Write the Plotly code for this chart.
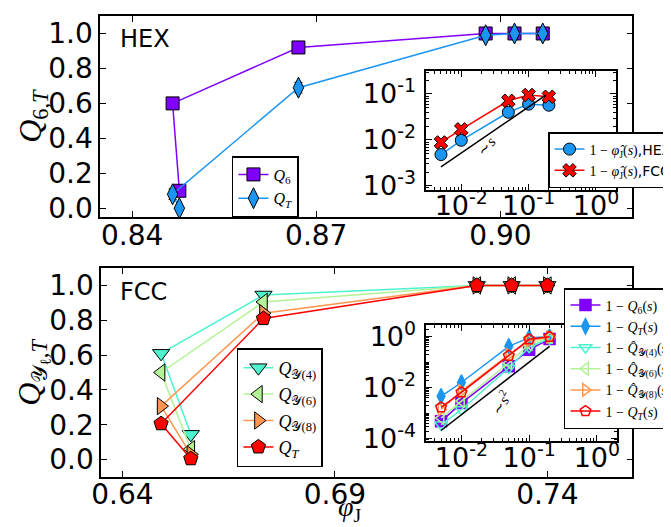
import plotly.graph_objects as go

# ---------------- data ----------------
# HEX main panel (ordered by decreasing compression rate s)
hex_phi = [0.8477, 0.8466, 0.8671, 0.8976, 0.9023, 0.9069]
hex_Q6 = [0.10, 0.60, 0.92, 1.00, 1.00, 1.00]
hex_Q6_err = [0.01, 0.01, 0.01, 0.005, 0.005, 0.005]
hex_QT = [0.00, 0.08, 0.69, 0.99, 1.00, 1.00]
hex_QT_err = [0.005, 0.03, 0.03, 0.01, 0.005, 0.005]

# HEX inset
s_vals = [0.005, 0.01, 0.05, 0.1, 0.2]
hex_1m_phi = [0.0048, 0.0098, 0.040, 0.060, 0.057]
fcc_1m_phi = [0.0088, 0.017, 0.071, 0.095, 0.087]
guide1_s = [0.005, 0.18]
guide1_y = [0.0026, 0.094]

# FCC main panel
fcc_phi = [0.6561, 0.6491, 0.6732, 0.7234, 0.7316, 0.7400]
fcc_Qy4 = [0.145, 0.61, 0.945, 1.0, 1.0, 1.0]
fcc_Qy6 = [0.06, 0.50, 0.905, 1.0, 1.0, 1.0]
fcc_Qy8 = [0.03, 0.307, 0.84, 1.0, 1.0, 1.0]
fcc_QT = [0.005, 0.206, 0.81, 1.0, 1.0, 1.0]
fcc_err = [0.01, 0.01, 0.01, 0.005, 0.005, 0.005]

# FCC inset
in_1mQ6 = [0.00048, 0.0025, 0.069, 0.31, 0.81]
in_1mQT_hex = [0.0046, 0.016, 0.42, 0.92, 1.0]
in_1mQy4 = [0.00035, 0.0014, 0.059, 0.39, 0.855]
in_1mQy6 = [0.00065, 0.003, 0.093, 0.50, 0.94]
in_1mQy8 = [0.0014, 0.0074, 0.20, 0.69, 0.97]
in_1mQT_fcc = [0.0017, 0.0066, 0.18, 0.79, 0.995]
guide2_s = [0.005, 0.2]
guide2_y = [0.00021, 0.42]

# tick labels
main_yticks = [0, 0.2, 0.4, 0.6, 0.8, 1.0]
main_yticktext = ["0.0", "0.2", "0.4", "0.6", "0.8", "1.0"]
hex_xticks = [0.84, 0.87, 0.90]
hex_xticktext = ["0.84", "0.87", "0.90"]
fcc_xticks = [0.64, 0.69, 0.74]
fcc_xticktext = ["0.64", "0.69", "0.74"]
inset_xticks = [0.01, 0.1, 1.0]
inset_xticktext = ["10<sup>-2</sup>", "10<sup>-1</sup>", "10<sup>0</sup>"]
hex_inset_yticks = [0.001, 0.01, 0.1]
hex_inset_yticktext = ["10<sup>-3</sup>", "10<sup>-2</sup>", "10<sup>-1</sup>"]
fcc_inset_yticks = [0.0001, 0.01, 1.0]
fcc_inset_yticktext = ["10<sup>-4</sup>", "10<sup>-2</sup>", "10<sup>0</sup>"]

C = ["#7f00ff", "#1a96f2", "#4df3ce", "#b3f396", "#ff964f", "#ff0000"]

W, H = 671, 527
def px(x): return x / W
def py(y): return 1 - y / H

TICKF = dict(family="DejaVu Sans", size=28, color="black")
INSF = dict(family="DejaVu Sans", size=27, color="black")
MATHF = "Liberation Serif"

fig = go.Figure()

def err(a):
    return dict(type="data", array=a, color="black", thickness=1, width=4)

# ---- top main ----
fig.add_trace(go.Scatter(x=hex_phi, y=hex_Q6, mode="lines+markers", name="<i>Q</i><sub>6</sub>",
                         line=dict(color=C[0], width=1.5), error_y=err(hex_Q6_err),
                         marker=dict(symbol="square", size=13, color=C[0], line=dict(color="black", width=1)),
                         xaxis="x", yaxis="y", legend="legend"))
fig.add_trace(go.Scatter(x=hex_phi, y=hex_QT, mode="lines+markers", name="<i>Q</i><sub><i>T</i></sub>",
                         line=dict(color=C[1], width=1.5), error_y=err(hex_QT_err),
                         marker=dict(symbol="diamond-tall", size=15, color=C[1], line=dict(color="black", width=1)),
                         xaxis="x", yaxis="y", legend="legend"))

# ---- top inset ----
fig.add_trace(go.Scatter(x=s_vals, y=hex_1m_phi, mode="lines+markers",
                         name="1 − <i>φ̂</i><sub>J</sub>(<i>s</i>)<span style='font-family:DejaVu Sans'>,HEX</span>",
                         line=dict(color=C[1], width=1.5),
                         marker=dict(symbol="circle", size=12, color=C[1], line=dict(color="black", width=1)),
                         xaxis="x3", yaxis="y3", legend="legend2"))
fig.add_trace(go.Scatter(x=s_vals, y=fcc_1m_phi, mode="lines+markers",
                         name="1 − <i>φ̂</i><sub>J</sub>(<i>s</i>)<span style='font-family:DejaVu Sans'>,FCC</span>",
                         line=dict(color=C[5], width=1.5),
                         marker=dict(symbol="x", size=12, color=C[5], line=dict(color="black", width=1)),
                         xaxis="x3", yaxis="y3", legend="legend2"))
fig.add_trace(go.Scatter(x=guide1_s, y=guide1_y, mode="lines", showlegend=False,
                         line=dict(color="black", width=1.5), xaxis="x3", yaxis="y3"))

# ---- bottom main ----
bot = [(fcc_Qy4, C[2], "triangle-down", "<i>Q</i><sub>𝒴(4)</sub>"),
       (fcc_Qy6, C[3], "triangle-left", "<i>Q</i><sub>𝒴(6)</sub>"),
       (fcc_Qy8, C[4], "triangle-right", "<i>Q</i><sub>𝒴(8)</sub>"),
       (fcc_QT, C[5], "pentagon", "<i>Q</i><sub><i>T</i></sub>")]
for yv, col, sym, nm in bot:
    fig.add_trace(go.Scatter(x=fcc_phi, y=yv, mode="lines+markers", name=nm,
                             line=dict(color=col, width=1.5), error_y=err(fcc_err),
                             marker=dict(symbol=sym, size=15, color=col, line=dict(color="black", width=1)),
                             xaxis="x2", yaxis="y2", legend="legend3"))

# ---- bottom inset ----
ins = [(in_1mQ6, C[0], "square", "1 − <i>Q</i><sub>6</sub>(<i>s</i>)"),
       (in_1mQT_hex, C[1], "diamond-tall", "1 − <i>Q</i><sub><i>T</i></sub>(<i>s</i>)"),
       (in_1mQy4, C[2], "triangle-down-open", "1 − <i>Q̂</i><sub>𝒴(4)</sub>(<i>s</i>)"),
       (in_1mQy6, C[3], "triangle-left-open", "1 − <i>Q̂</i><sub>𝒴(6)</sub>(<i>s</i>)"),
       (in_1mQy8, C[4], "triangle-right-open", "1 − <i>Q̂</i><sub>𝒴(8)</sub>(<i>s</i>)"),
       (in_1mQT_fcc, C[5], "pentagon-open", "1 − <i>Q</i><sub><i>T</i></sub>(<i>s</i>)")]
for yv, col, sym, nm in ins:
    fig.add_trace(go.Scatter(x=s_vals, y=yv, mode="lines+markers", name=nm,
                             line=dict(color=col, width=1.5),
                             marker=dict(symbol=sym, size=11, color=col,
                                         line=dict(color=col, width=1.5)),
                             xaxis="x4", yaxis="y4", legend="legend4"))
fig.add_trace(go.Scatter(x=guide2_s, y=guide2_y, mode="lines", showlegend=False,
                         line=dict(color="black", width=1.5), xaxis="x4", yaxis="y4"))

frame = dict(showline=True, linecolor="black", linewidth=1.5, mirror="allticks",
             ticks="inside", ticklen=6, tickwidth=1, tickcolor="black",
             showgrid=False, zeroline=False, tickfont=TICKF, automargin=False, tickangle=0)

logminor = dict(ticks="inside", ticklen=3, tickcolor="black", dtick="D1", showgrid=False)
logax = dict(frame, type="log", tickfont=INSF, minor=logminor, tickmode="array")

fig.update_layout(
    width=W, height=H, margin=dict(l=0, r=0, t=0, b=0),
    paper_bgcolor="white", plot_bgcolor="white", showlegend=True,
    xaxis=dict(frame, domain=[px(93), px(630)], range=[0.8348, 0.9215], anchor="y",
               tickvals=hex_xticks, ticktext=hex_xticktext, ticklabelstandoff=-7),
    yaxis=dict(frame, domain=[py(209), py(8)], range=[-0.05, 1.1], anchor="x",
               tickvals=main_yticks, ticktext=main_yticktext),
    xaxis2=dict(frame, domain=[px(94), px(630)], range=[0.635, 0.760], anchor="y2",
                tickvals=fcc_xticks, ticktext=fcc_xticktext, ticklabelstandoff=-8),
    yaxis2=dict(frame, domain=[py(469), py(260)], range=[-0.1, 1.1], anchor="x2",
                tickvals=main_yticks, ticktext=main_yticktext),
    xaxis3=dict(logax, domain=[px(422), px(613)], range=[-2.52, 0.29], anchor="y3",
                tickvals=inset_xticks, ticktext=inset_xticktext, ticklabelstandoff=-9),
    yaxis3=dict(logax, domain=[py(182), py(63)], range=[-3.09, -0.5], anchor="x3",
                tickvals=hex_inset_yticks, ticktext=hex_inset_yticktext, ticklabelstandoff=3),
    xaxis4=dict(logax, domain=[px(422), px(614)], range=[-2.52, 0.29], anchor="y4",
                tickvals=inset_xticks, ticktext=inset_xticktext, ticklabelstandoff=-8),
    yaxis4=dict(logax, domain=[py(433), py(317)], range=[-4.09, 0.46], anchor="x4",
                tickvals=fcc_inset_yticks, ticktext=fcc_inset_yticktext, ticklabelstandoff=3),
    legend=dict(x=px(226), y=py(148), xanchor="left", yanchor="top", bgcolor="white",
                bordercolor="black", borderwidth=1.5, font=dict(family=MATHF, size=16, color="black"),
                itemsizing="trace", tracegroupgap=0),
    legend2=dict(x=px(545), y=py(124), xanchor="left", yanchor="top", bgcolor="white",
                 bordercolor="black", borderwidth=1.5, font=dict(family=MATHF, size=14, color="black"),
                 itemsizing="trace", tracegroupgap=0),
    legend3=dict(x=px(231), y=py(340), xanchor="left", yanchor="top", bgcolor="white",
                 bordercolor="black", borderwidth=1.5, font=dict(family=MATHF, size=18, color="black"),
                 itemsizing="trace", tracegroupgap=0),
    legend4=dict(x=px(561), y=py(280), xanchor="left", yanchor="top", bgcolor="white",
                 bordercolor="black", borderwidth=1.5, font=dict(family=MATHF, size=14, color="black"),
                 itemsizing="trace", tracegroupgap=0),
)

ann = [
    dict(text="HEX", x=px(111), y=py(31), xanchor="left", yanchor="middle",
         font=dict(family="DejaVu Sans", size=24, color="black")),
    dict(text="FCC", x=px(111), y=py(284), xanchor="left", yanchor="middle",
         font=dict(family="DejaVu Sans", size=24, color="black")),
    dict(text="<i>Q</i><sub>6,<i>T</i></sub>", x=px(24), y=py(108), textangle=-90,
         xanchor="center", yanchor="middle", font=dict(family=MATHF, size=32, color="black")),
    dict(text="<i>Q</i><sub>𝒴<sub>ℓ</sub>,<i>T</i></sub>", x=px(24), y=py(364), textangle=-90,
         xanchor="center", yanchor="middle", font=dict(family=MATHF, size=32, color="black")),
    dict(text="<i>φ</i><sub>J</sub>", x=px(345), y=py(500), xanchor="center", yanchor="middle",
         font=dict(family=MATHF, size=28, color="black")),
    dict(text="∼<i>s</i>", x=-1.62, y=-2.13, xref="x3", yref="y3", textangle=-50,
         font=dict(family=MATHF, size=15, color="black")),
    dict(text="∼<i>s</i><sup>2</sup>", x=-1.42, y=-2.6, xref="x4", yref="y4", textangle=-60,
         font=dict(family=MATHF, size=15, color="black")),
]
for a in ann:
    a.setdefault("xref", "paper")
    a.setdefault("yref", "paper")
    a["showarrow"] = False
    fig.add_annotation(**a)

fig.write_html("out.html")
